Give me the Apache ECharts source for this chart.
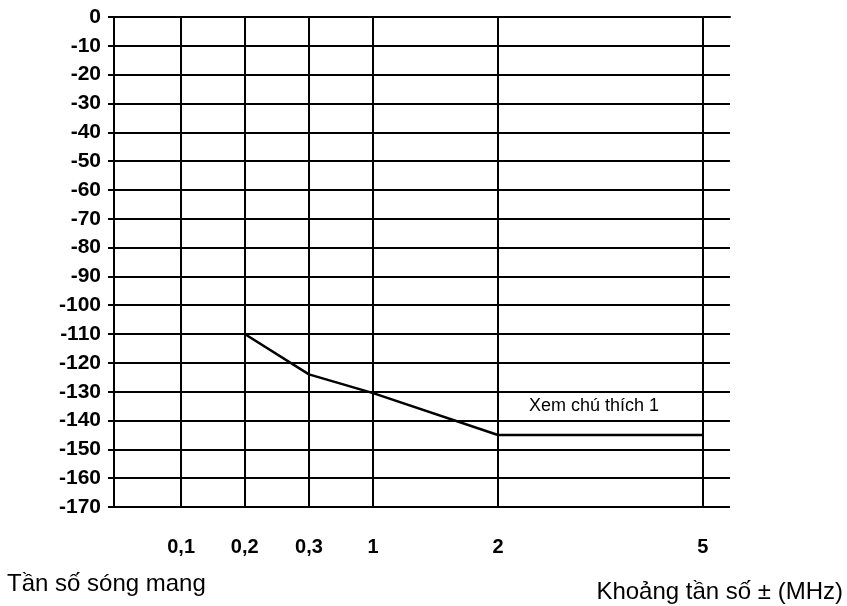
<!DOCTYPE html>
<html>
<head>
<meta charset="utf-8">
<script src="https://cdn.jsdelivr.net/npm/echarts@6/dist/echarts.min.js"></script>
<style>html,body{margin:0;padding:0;background:#fff}#c{width:847px;height:606px}</style>
</head>
<body>
<div id="c"></div>
<script>
// Category labels of the (non-linear) frequency axis and their positions along it
const xLabels = ['0,1', '0,2', '0,3', '1', '2', '5'];
const xPositions = [1.14, 2.22, 3.31, 4.40, 6.52, 10.0];
const xAxisMax = 10.46;
// Curve: which category each point sits on, and its level (dB)
const curveCats = ['0,2', '0,3', '1', '2', '5'];
const curveValues = [-110, -124, -130.5, -145, -145];
// Y axis
const yMin = -170, yMax = 0, yStep = 10;
// Annotation
const noteText = 'Xem chú thích 1';
const notePos = [8.15, -135];
const leftTitle = 'Tần số sóng mang';
const rightTitle = 'Khoảng tần số ± (MHz)';

const posOf = c => xPositions[xLabels.indexOf(c)];
const curveData = curveCats.map((c, i) => [posOf(c), curveValues[i]]);

const chart = echarts.init(document.getElementById('c'), null, {renderer: 'canvas'});
const FONT = '"Liberation Sans", Arial, sans-serif';
chart.setOption({
  animation: false,
  backgroundColor: '#fff',
  grid: {left: 114, right: 117, top: 17, bottom: 99, containLabel: false},
  xAxis: {
    type: 'value', min: 0, max: xAxisMax,
    axisLine: {show: true, lineStyle: {color: '#000', width: 2}},
    axisTick: {show: true, customValues: xPositions, length: 8, inside: false, lineStyle: {color: '#000', width: 2}},
    axisLabel: {
      show: true, customValues: xPositions, margin: 30,
      formatter: v => { const i = xPositions.findIndex(p => Math.abs(p - v) < 1e-6); return i >= 0 ? xLabels[i] : ''; },
      color: '#000', fontFamily: FONT, fontSize: 20, fontWeight: 'bold'
    },
    splitLine: {show: false}
  },
  yAxis: {
    type: 'value', min: yMin, max: yMax, interval: yStep,
    axisLine: {show: true, lineStyle: {color: '#000', width: 2}},
    axisTick: {show: true, length: 6, lineStyle: {color: '#000', width: 2}},
    axisLabel: {color: '#000', fontFamily: FONT, fontSize: 21, fontWeight: 'bold', margin: 13},
    splitLine: {show: true, lineStyle: {color: '#000', width: 2, type: 'solid'}}
  },
  series: [
    {
      type: 'line', data: curveData, symbol: 'none',
      lineStyle: {color: '#000', width: 2.5},
      markLine: {
        silent: true, symbol: 'none', label: {show: false},
        lineStyle: {color: '#000', width: 2, type: 'solid'},
        data: xPositions.map(p => ({xAxis: p}))
      },
      z: 3
    },
    {
      type: 'scatter', data: [notePos], symbolSize: 0, silent: true,
      itemStyle: {opacity: 1},
      label: {show: true, position: 'inside', formatter: noteText, color: '#000', opacity: 1, fontFamily: FONT, fontSize: 18}
    }
  ],
  graphic: [
    {type: 'text', left: 7, top: 572, style: {text: leftTitle, fill: '#000', font: '24px ' + FONT}},
    {type: 'text', right: 4, top: 580, style: {text: rightTitle, fill: '#000', font: '24px ' + FONT}}
  ]
});
</script>
</body>
</html>
